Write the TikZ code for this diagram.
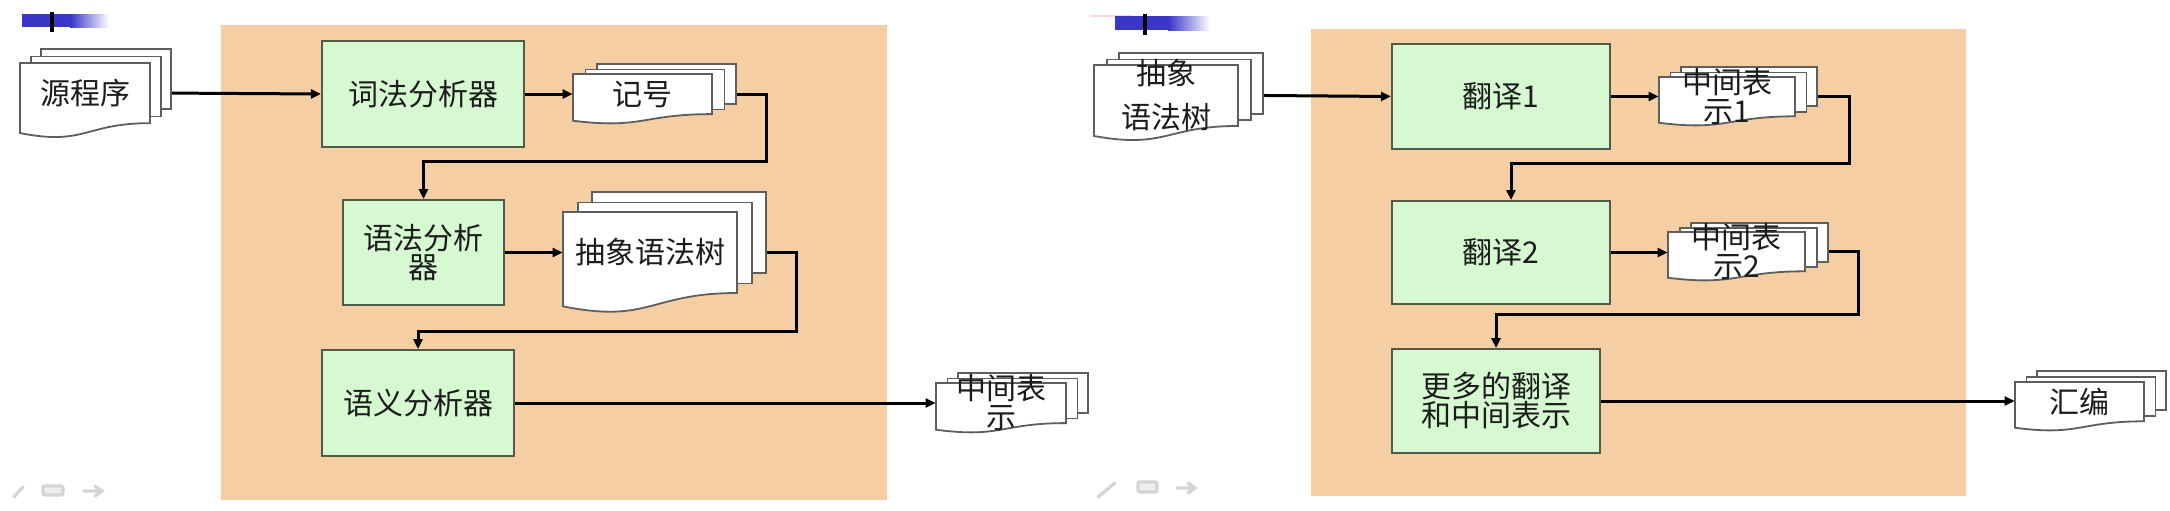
\documentclass[tikz,border=0pt]{standalone}
\usepackage{fontspec}
\newfontfamily\cjk{Noto Sans CJK SC}
\usetikzlibrary{calc,arrows.meta}
\definecolor{bgorange}{HTML}{F6CEA4}
\definecolor{boxgreen}{HTML}{D7F9D2}
\definecolor{boxline}{HTML}{4F5A48}
\definecolor{doclinec}{HTML}{5E5E5E}
\definecolor{txt}{HTML}{1C1C1C}
\definecolor{barblue}{HTML}{3A36C8}
\definecolor{navgray}{HTML}{D4D4D4}
\tikzset{
  proc/.style={draw=boxline, line width=1pt, fill=boxgreen, anchor=north west, inner sep=0pt,
    font=\cjk\fontsize{15}{14.5}\selectfont, text=txt, align=center},
  sheet/.style={draw=doclinec, line width=0.9pt, fill=white, inner sep=0pt, anchor=north west},
  docsheet/.style={draw=doclinec, line width=0.9pt, fill=white},
  doctext/.style={inner sep=0pt, anchor=center, font=\cjk\fontsize{15}{14.5}\selectfont, text=txt, align=center},
  conn/.style={line width=1.5pt, -{Triangle[length=5pt,width=4.5pt]}},
  panel/.style={fill=bgorange, draw=none},
  nav/.style={draw=navgray, line width=1.6pt, line cap=round},
}
% name, x, y, w, h, dx, dy, text
\newcommand\mdoc[8]{%
  \node[sheet, minimum width={#4*0.5pt}, minimum height={0.802*#5*0.5pt}] (#1-b) at ({#2+2*#6},{#3-2*#7}) {};
  \node[sheet, minimum width={#4*0.5pt}, minimum height={0.802*#5*0.5pt}] (#1-m) at ({#2+#6},{#3-#7}) {};
  \filldraw[docsheet] (#2,#3) -- ({#2+#4},#3) -- ({#2+#4},{#3+0.802*#5})
     .. controls ({#2+0.5*#4},{#3+0.802*#5}) and ({#2+0.5*#4},{#3+1.107*#5}) .. (#2,{#3+0.934*#5}) -- cycle;
  \node[doctext, minimum width={#4*0.5pt}] (#1) at ({#2+0.5*#4},{#3+0.401*#5}) {#8};
}
% name, x1, y1, x2, y2, text
\newcommand\proc[6]{%
  \node[proc, minimum width={(#4-#2)*0.5pt}, minimum height={(#5-#3)*0.5pt}] (#1) at (#2,#3) {#6};
}
\begin{document}
\begin{tikzpicture}[x=0.5pt, y=-0.5pt]
\useasboundingbox (0,0) rectangle (2170,510);
\fill[white] (0,0) rectangle (2170,510);

% ---------- header bars ----------
\fill[barblue] (22,14) rectangle (70,27);
\shade[left color=barblue, right color=white] (70,14) rectangle (109,27);
\draw[black, line width=2pt] (52,12) -- (52,32);
\fill[pink!60] (1090,15) rectangle (1133,17);
\fill[barblue] (1115,16) rectangle (1168,30);
\shade[left color=barblue, right color=white] (1168,16) rectangle (1210,30);
\draw[black, line width=2pt] (1145,14) -- (1145,35);

% ---------- nav icons ----------
\draw[nav] (14,497) -- (23,487);
\draw[nav, rounded corners=1pt, fill=navgray!40] (43,486) rectangle (63,495);
\draw[nav] (84,491) -- (100,491) (95,486) -- (102,491) -- (95,496);
\draw[nav] (1098,497) -- (1115,483);
\draw[nav, rounded corners=1pt, fill=navgray!40] (1138,482) rectangle (1157,492);
\draw[nav] (1177,488) -- (1192,488) (1188,483) -- (1195,488) -- (1188,493);

% ---------- panels ----------
\fill[panel] (221,25) rectangle (887,500);
\fill[panel] (1311,29) rectangle (1966,496);

% ---------- left diagram ----------
\mdoc{src}{20}{63}{130}{75}{10}{7.5}{源程序}
\proc{lex}{321}{40}{523}{146}{词法分析器}
\mdoc{tok}{573}{74}{139}{50}{11.5}{5.5}{记号}
\proc{syn}{342}{199}{503}{304}{语法分析\\器}
\mdoc{ast}{563}{212}{174}{101}{14}{10.5}{抽象语法树}
\proc{sem}{321}{349}{513}{455}{语义分析器}
\mdoc{ir}{936}{383}{130}{50}{10.5}{5.5}{中间表\\示}

\draw[conn] (src.center -| src-b.east) -- (lex.west);
\draw[conn] (lex.east) -- (lex.east -| tok.west);
\draw[conn] (tok.center -| tok-b.east) -- ++(30,0) |- ($(syn.north)+(0,-38)$) -- (syn.north);
\draw[conn] (syn.east) -- (syn.east -| ast.west);
\draw[conn] (ast.center -| ast-b.east) -- ++(30,0) |- ($(sem.north)+(0,-18)$) -- (sem.north);
\draw[conn] (sem.east) -- (sem.east -| ir.west);

% ---------- right diagram ----------
\mdoc{ast2}{1094}{65}{144}{76}{12}{6.5}{抽象\\[7.5pt]语法树}
\proc{tr1}{1391}{43}{1609}{148}{翻译1}
\mdoc{ir1}{1659}{77}{136}{49}{10.5}{5.5}{中间表\\示1}
\proc{tr2}{1391}{200}{1609}{303}{翻译2}
\mdoc{ir2}{1668}{232}{137}{49}{11}{5}{中间表\\示2}
\proc{more}{1391}{348}{1599}{452}{更多的翻译\\和中间表示}
\mdoc{asm}{2015}{382}{129}{49}{10.5}{6}{汇编}

\draw[conn] (ast2.center -| ast2-b.east) -- (tr1.west);
\draw[conn] (tr1.east) -- (tr1.east -| ir1.west);
\draw[conn] (ir1.center -| ir1-b.east) -- ++(32,0) |- ($(tr2.north)+(10,-37)$) -- ([xshift=5pt]tr2.north);
\draw[conn] (tr2.east) -- (tr2.east -| ir2.west);
\draw[conn] (ir2.center -| ir2-b.east) -- ++(30,0) |- ($(more.north)+(0,-34)$) -- (more.north);
\draw[conn] (more.east) -- (more.east -| asm.west);
\end{tikzpicture}
\end{document}
